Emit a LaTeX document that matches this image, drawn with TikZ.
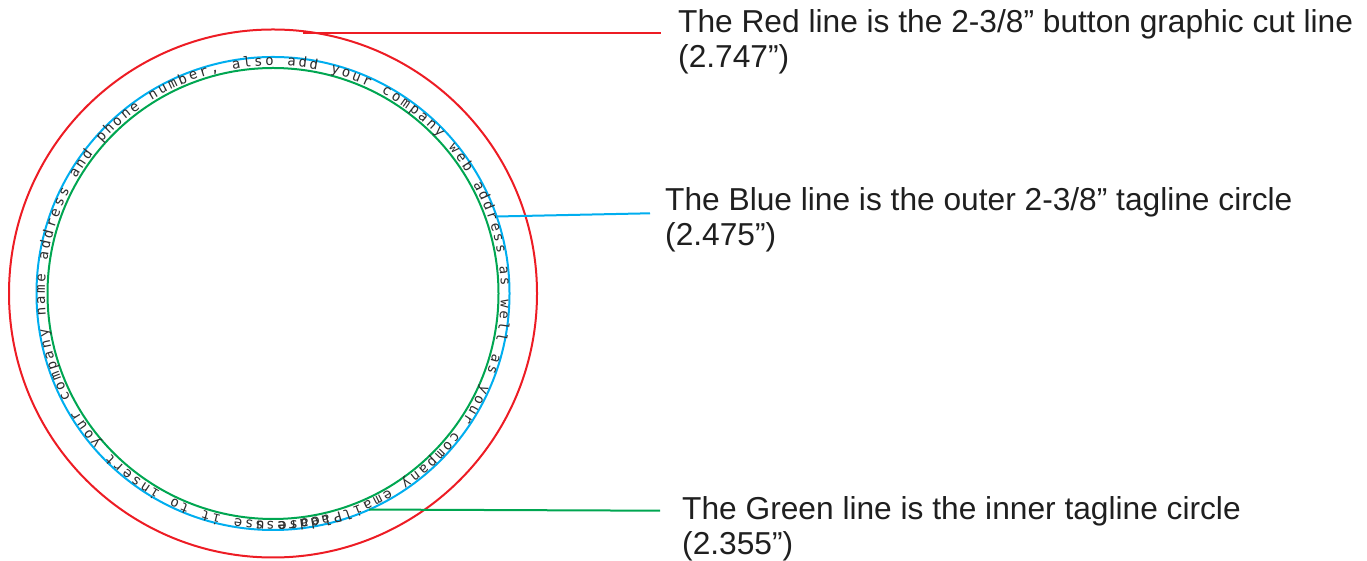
\documentclass[tikz,border=0pt]{standalone}
\usepackage{fontspec}
\usepackage{xstring}
\setmainfont{Liberation Sans}
\newfontfamily\arcfont{DejaVu Sans Mono}
\usetikzlibrary{calc}
\definecolor{cutred}{RGB}{237,28,36}
\definecolor{tagblue}{RGB}{0,174,239}
\definecolor{taggreen}{RGB}{0,166,81}
\definecolor{textgray}{RGB}{45,45,45}
\tikzset{
  ring/.style={circle, draw=#1, line width=2pt, inner sep=0pt, outer sep=0pt},
  leader/.style={draw=#1, line width=2pt},
  label text/.style={anchor=base west, align=left, inner sep=0pt, text=black!88,
    font=\fontsize{31.7}{35}\selectfont},
  arc char/.style={anchor=base, inner sep=0pt, text=textgray,
    font=\arcfont\fontsize{14}{14}\selectfont}
}
\def\tagtext{Please use it to insert your company name address and phone number, also add your company web address as well as your company email address}
\begin{document}
\begin{tikzpicture}[x=1pt,y=1pt]
\useasboundingbox (0,0) rectangle (1367,561);
\coordinate (c) at (273,267.5);
\node[ring=cutred, minimum size=528pt] (red) at (c) {};
\node[ring=tagblue, minimum size=473pt] (blue) at (c) {};
\node[ring=taggreen, minimum size=451pt] (green) at (c) {};

\StrLen{\tagtext}[\taglen]
\foreach \i in {1,...,\taglen}{
  \StrChar{\tagtext}{\i}[\ch]
  \pgfmathsetmacro{\ang}{287.5-(\i-0.5)*2.75}
  \node[arc char, rotate=\ang-90] (ch\i) at ($(c)+(\ang:228)$) {\ch};
}

\coordinate (redstart) at (303,528.3);
\coordinate (redend) at (661,528.3);
\coordinate (blueend) at (650,347.7);
\coordinate (greenend) at (660,50.3);

\node[label text] (redlabel) at (678,493.3) {The Red line is the 2-3/8” button graphic cut line\\(2.747”)};
\node[label text] (bluelabel) at (665,315.5) {The Blue line is the outer 2-3/8” tagline circle\\(2.475”)};
\node[label text] (greenlabel) at (682,6.5) {The Green line is the inner tagline circle\\(2.355”)};

\draw[leader=cutred] (redstart) -- (redend);
\draw[leader=tagblue] (blue.19.8) -- (blueend);
\draw[leader=taggreen] (blue.-66.9) -- (greenend);
\end{tikzpicture}
\end{document}
